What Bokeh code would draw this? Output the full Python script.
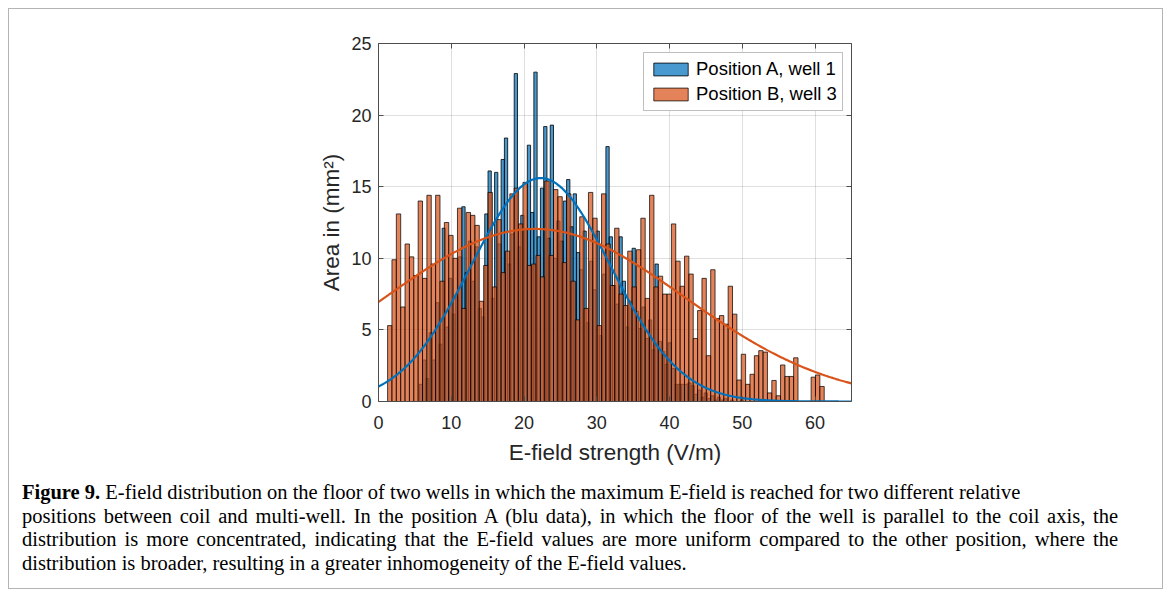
import numpy as np
from bokeh.plotting import figure
from bokeh.layouts import column
from bokeh.models import Range1d, LinearAxis, FixedTicker, Legend, LegendItem, Div
from bokeh.embed import file_html
from bokeh.resources import INLINE

# Position A, well 1: area (mm^2) per E-field bin
BLUE_BIN_START = 5.6
BLUE_BIN_WIDTH = 0.45
blue_counts = [
    1.2, 2.9, 1.6, 4.8, 2.9, 6.9, 4.0, 12.1, 5.2, 8.6,
    6.1, 7.3, 10.1, 13.6, 9.0, 11.2, 8.4, 10.8, 6.5, 5.9,
    13.1, 16.1, 7.2, 16.0, 11.0, 16.9, 18.4, 9.6, 11.7, 22.9,
    10.8, 13.0, 12.0, 17.9, 13.2, 23.0, 11.5, 14.9, 19.2, 11.4,
    19.3, 10.0, 12.6, 11.2, 14.0, 15.5, 12.2, 14.5, 10.4, 9.2,
    11.9, 5.5, 9.8, 7.8, 11.9, 4.6, 8.9, 17.8, 11.5, 8.1,
    6.8, 11.5, 8.4, 5.2, 7.0, 10.7, 6.3, 5.1, 6.6, 4.4,
    5.7, 3.6, 9.6, 4.2, 3.5, 2.6, 4.1, 2.3, 1.2, 1.2,
    1.2, 1.2, 1.3, 1.1, 0.5, 0.8, 0.3, 0.6, 0.2, 0.4,
    0.1, 0.3, 0.1, 0.2, 0.0, 0.1, 0.0, 0.0, 0.1, 0.0,
]

# Position B, well 3: area (mm^2) per E-field bin
ORANGE_BIN_START = 1.25
ORANGE_BIN_WIDTH = 0.6
orange_counts = [
    5.3, 9.9, 13.1, 6.6, 11.0, 10.1, 8.8, 14.0, 8.6, 14.4,
    9.6, 14.4, 8.4, 12.5, 11.6, 10.0, 13.5, 6.5, 13.2, 13.0,
    12.3, 7.0, 9.5, 14.6, 8.0, 12.7, 9.0, 10.5, 14.5, 14.9,
    12.4, 15.3, 9.5, 9.6, 10.2, 8.7, 15.4, 10.2, 14.8, 14.3,
    9.7, 14.5, 8.4, 5.7, 12.9, 6.5, 14.6, 12.8, 5.3, 14.5,
    11.0, 8.1, 12.1, 7.5, 6.7, 10.5, 8.0, 10.6, 12.8, 7.2,
    14.4, 8.0, 8.75, 7.5, 7.5, 12.4, 9.8, 8.05, 10.15, 8.9,
    4.4, 6.35, 8.6, 3.2, 9.2, 5.8, 6.0, 5.4, 8.05, 6.1,
    1.5, 3.3, 1.2, 1.9, 3.2, 3.55, 3.45, 0.6, 1.47, 0.4,
    2.55, 1.75, 1.75, 3.05, 0.0, 0.0, 0.0, 1.7, 1.85, 1.05,
]

# Normal fits drawn over each histogram
blue_fit = {"mean": 22.3, "sd": 9.6, "peak": 15.6}
orange_fit = {"mean": 21.5, "sd": 20.5, "peak": 12.05}

series_labels = ["Position A, well 1", "Position B, well 3"]
x_ticks = [0, 10, 20, 30, 40, 50, 60]
y_ticks = [0, 5, 10, 15, 20, 25]

caption_lead = "Figure 9."
caption_lines = [
    "E-field distribution on the floor of two wells in which the maximum E-field is reached for two different relative",
    "positions between coil and multi-well. In the position A (blu data), in which the floor of the well is parallel to the coil axis, the",
    "distribution is more concentrated, indicating that the E-field values are more uniform compared to the other position, where the",
    "distribution is broader, resulting in a greater inhomogeneity of the E-field values.",
]

BLUE = "#0072BD"
ORANGE = "#D95319"
AX = "#262626"
INNER_W = 1153
CHART_H = 460
CAP_H = 119

p = figure(width=INNER_W, height=CHART_H, output_backend="svg", toolbar_location=None,
           x_range=Range1d(0, 65), y_range=Range1d(0, 25),
           min_border_left=369, min_border_right=311,
           min_border_top=34, min_border_bottom=68,
           background_fill_color="white", border_fill_color="white")
p.outline_line_color = None


def style_axis(ax, show_labels):
    ax.axis_line_color = "#4d4d4d"
    ax.axis_line_width = 1
    ax.major_tick_line_color = "#4d4d4d"
    ax.major_tick_in = 5
    ax.major_tick_out = 0
    ax.minor_tick_line_color = None
    ax.major_label_text_font = "Liberation Sans"
    ax.major_label_text_font_size = "18px"
    ax.major_label_text_color = AX if show_labels else None
    ax.axis_label_text_font = "Liberation Sans"
    ax.axis_label_text_font_style = "normal"
    ax.axis_label_text_font_size = "22.5px"
    ax.axis_label_text_color = AX


xb = p.xaxis[0]
yl = p.yaxis[0]
xb.ticker = FixedTicker(ticks=x_ticks)
yl.ticker = FixedTicker(ticks=y_ticks)
style_axis(xb, True)
style_axis(yl, True)
xb.axis_label = "E-field strength (V/m)"
yl.axis_label = "Area in (mm²)"
xb.major_label_standoff = 14
xb.axis_label_standoff = 8
yl.major_label_standoff = 7
yl.axis_label_standoff = 4

top_ax = LinearAxis(ticker=FixedTicker(ticks=x_ticks))
right_ax = LinearAxis(ticker=FixedTicker(ticks=y_ticks))
style_axis(top_ax, False)
style_axis(right_ax, False)
top_ax.major_label_text_font_size = "1px"
right_ax.major_label_text_font_size = "1px"
p.add_layout(top_ax, "above")
p.add_layout(right_ax, "right")

p.xgrid.ticker = FixedTicker(ticks=x_ticks)
p.ygrid.ticker = FixedTicker(ticks=y_ticks)
p.grid.grid_line_color = AX
p.grid.grid_line_alpha = 0.15

# histogram bars
b_left = BLUE_BIN_START + BLUE_BIN_WIDTH * np.arange(len(blue_counts))
o_left = ORANGE_BIN_START + ORANGE_BIN_WIDTH * np.arange(len(orange_counts))

r_blue = p.quad(left=b_left, right=b_left + BLUE_BIN_WIDTH, bottom=0,
                top=blue_counts, fill_color=BLUE, fill_alpha=0.72,
                line_color="black", line_alpha=1.0, line_width=0.8)
r_orange = p.quad(left=o_left, right=o_left + ORANGE_BIN_WIDTH, bottom=0,
                  top=orange_counts, fill_color=ORANGE, fill_alpha=0.72,
                  line_color="black", line_alpha=0.9, line_width=0.8)

# fitted normal curves
xs = np.linspace(0, 65, 500)


def normal_curve(fit):
    return fit["peak"] * np.exp(-0.5 * ((xs - fit["mean"]) / fit["sd"]) ** 2)


p.line(xs, normal_curve(blue_fit), line_color=BLUE, line_width=2.2)
p.line(xs, normal_curve(orange_fit), line_color=ORANGE, line_width=2.2)

legend = Legend(items=[LegendItem(label=series_labels[0], renderers=[r_blue]),
                       LegendItem(label=series_labels[1], renderers=[r_orange])],
                location=(265, 290), orientation="vertical",
                label_text_font="Liberation Sans", label_text_font_size="18.5px",
                label_text_color="black", glyph_width=43, glyph_height=16,
                label_height=18, label_standoff=4, spacing=3, padding=5,
                margin=0, border_line_color="#7f7f7f", border_line_width=1,
                background_fill_color="white", background_fill_alpha=1)
p.add_layout(legend)

# caption below the chart: middle lines justified, first and last ragged
ragged = "width: 1096px; white-space: nowrap;"
justified = "width: 1096px; text-align: justify; text-align-last: justify;"
rows = [
    '<div style="%s"><b>%s</b> %s</div>' % (ragged, caption_lead, caption_lines[0]),
    '<div style="%s">%s</div>' % (justified, caption_lines[1]),
    '<div style="%s">%s</div>' % (justified, caption_lines[2]),
    '<div style="%s">%s</div>' % (ragged, caption_lines[3]),
]
cap_html = ('<div style="font-family: \'Liberation Serif\', serif; font-size: 20.5px; '
            'line-height: 23.5px; color: black; padding: 12px 0 0 13px;">'
            + "".join(rows) + '</div>')
cap = Div(text=cap_html, width=INNER_W, height=CAP_H, margin=0)

root = column(p, cap, spacing=0, margin=(8, 0, 0, 8),
              styles={"border": "1px solid #b4b4b4"})

open("out.html", "w").write(file_html(root, INLINE))
